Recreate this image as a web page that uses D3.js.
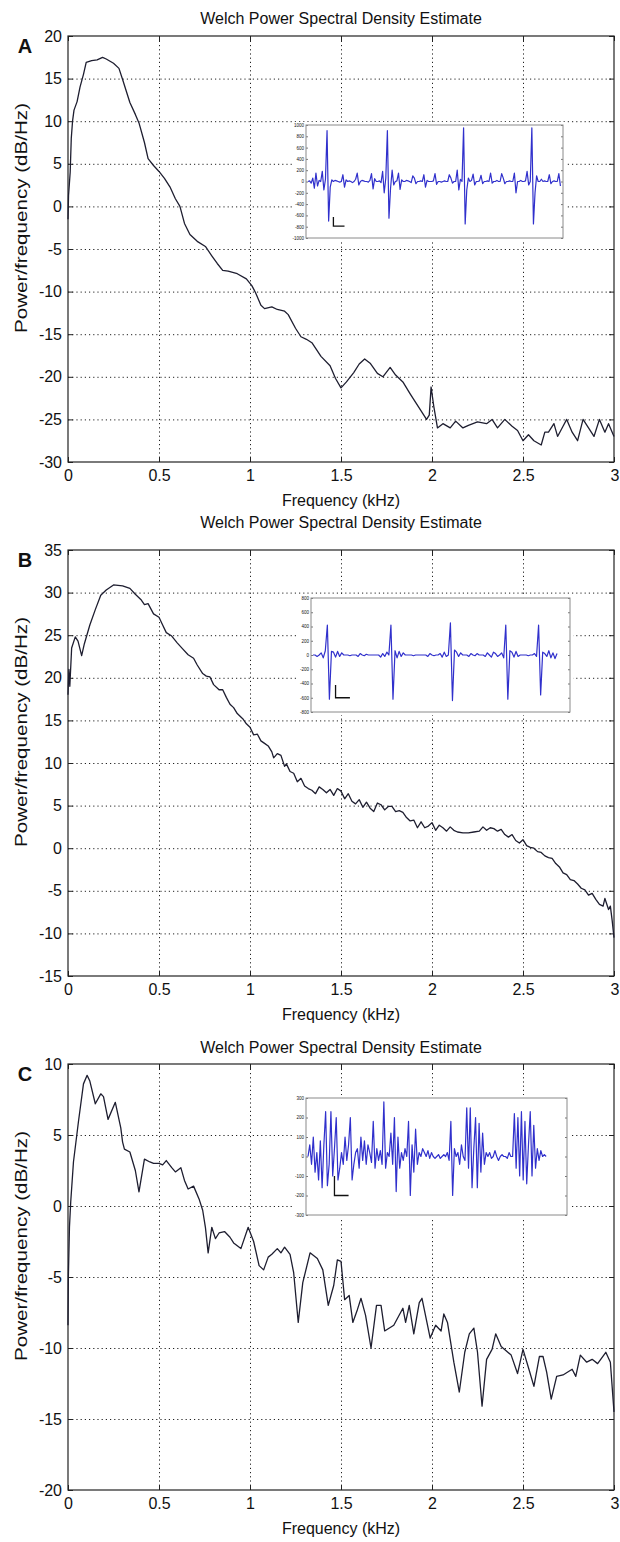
<!DOCTYPE html>
<html>
<head>
<meta charset="utf-8">
<script src="https://cdn.jsdelivr.net/npm/d3@7"></script>
<style>
  body { margin: 0; background: #fff; }
  text { font-family: "Liberation Sans", Arial, Helvetica, sans-serif; fill: #111; }
</style>
</head>
<body>
<div id="chart"></div>
<script>
// ---- data ----
const xTicks = [0, 0.5, 1, 1.5, 2, 2.5, 3];
const yTicksA = [20, 15, 10, 5, 0, -5, -10, -15, -20, -25, -30];
const yTicksB = [35, 30, 25, 20, 15, 10, 5, 0, -5, -10, -15];
const yTicksC = [10, 5, 0, -5, -10, -15, -20];

const freqA = [0, 0.003, 0.012, 0.018, 0.025, 0.033, 0.05, 0.066, 0.085, 0.1, 0.13, 0.16, 0.19, 0.21, 0.25, 0.28, 0.30, 0.34, 0.37, 0.39,
  0.42, 0.44, 0.47, 0.5, 0.53, 0.56, 0.59, 0.615, 0.64, 0.67, 0.71, 0.755, 0.79, 0.82, 0.85, 0.88, 0.93, 0.98, 1.01, 1.03,
  1.06, 1.08, 1.12, 1.15, 1.19, 1.21, 1.25, 1.28, 1.31, 1.34, 1.39, 1.44, 1.47, 1.50, 1.53, 1.57, 1.60, 1.63, 1.66, 1.70,
  1.73, 1.77, 1.80, 1.84, 1.88, 1.91, 1.94, 1.97, 1.985, 1.995, 2.01, 2.03, 2.06, 2.1, 2.13, 2.17, 2.2, 2.25, 2.3, 2.33,
  2.36, 2.4, 2.44, 2.47, 2.5, 2.53, 2.56, 2.6, 2.62, 2.64, 2.67, 2.69, 2.72, 2.74, 2.77, 2.8, 2.83, 2.86, 2.89, 2.92,
  2.95, 2.97, 3.0];
const psdA = [-1.5, 1.3, 4, 8, 10, 11.3, 12.3, 14, 15.5, 16.9, 17.1, 17.2, 17.5, 17.3, 16.8, 16.2, 14.9, 12.2, 10.8, 9.8,
  7.5, 5.6, 4.8, 4.1, 3.3, 2.3, 0.9, 0, -2, -3.3, -4.1, -4.7, -5.8, -6.7, -7.5, -7.6, -7.9, -8.5, -9.3, -10.1,
  -11.6, -12, -11.8, -12.1, -12.3, -12.7, -14.3, -15.3, -15.6, -16, -17.6, -18.7, -20.2, -21.3, -20.6, -19.5, -18.5, -17.9, -18.4, -19.6,
  -20, -18.9, -19.8, -20.6, -22, -23, -24, -25, -24.5, -21.2, -23.5, -26, -25.5, -26, -25.2, -26, -25.7, -25.3, -25.5, -25,
  -26, -25, -25.8, -26.3, -27.5, -26.8, -27.5, -28, -26.5, -26.5, -25.5, -27, -25.8, -25, -26.5, -27.5, -25, -26, -27, -25,
  -26.5, -25.5, -27];

const freqB = [0, 0.005, 0.01, 0.02, 0.04, 0.055, 0.075, 0.09, 0.12, 0.15, 0.18, 0.21, 0.25, 0.3, 0.34, 0.37, 0.4, 0.42, 0.44, 0.47,
  0.5, 0.52, 0.54, 0.57, 0.6, 0.63, 0.66, 0.69, 0.71, 0.74, 0.76, 0.78, 0.8, 0.83, 0.85, 0.87, 0.89, 0.91, 0.93, 0.96,
  0.98, 1.0, 1.02, 1.04, 1.06, 1.08, 1.1, 1.12, 1.13, 1.15, 1.17, 1.19, 1.2, 1.22, 1.24, 1.26, 1.28, 1.3, 1.32, 1.34,
  1.36, 1.38, 1.40, 1.42, 1.44, 1.46, 1.48, 1.50, 1.52, 1.54, 1.56, 1.58, 1.60, 1.62, 1.64, 1.66, 1.68, 1.70, 1.72, 1.74,
  1.76, 1.78, 1.80, 1.82, 1.84, 1.86, 1.88, 1.90, 1.92, 1.94, 1.96, 1.98, 2.0, 2.02, 2.04, 2.06, 2.08, 2.10, 2.12, 2.14,
  2.17, 2.2, 2.23, 2.26, 2.28, 2.30, 2.32, 2.34, 2.36, 2.38, 2.40, 2.42, 2.44, 2.46, 2.48, 2.50, 2.52, 2.54, 2.56, 2.58,
  2.60, 2.62, 2.64, 2.66, 2.68, 2.70, 2.72, 2.74, 2.76, 2.78, 2.80, 2.82, 2.84, 2.86, 2.88, 2.90, 2.92, 2.94, 2.95, 2.97,
  2.98, 2.99, 3.0];
const psdB = [18, 21, 19, 23.5, 24.8, 24.3, 22.6, 24, 26.2, 28, 29.7, 30.3, 30.9, 30.8, 30.5, 29.8, 29.2, 28.6, 28.7, 27.5,
  27.1, 26.2, 25.3, 24.9, 24.1, 23.4, 22.7, 22.3, 21.5, 20.5, 20.2, 20.1, 19.2, 18.6, 18.6, 17.7, 16.9, 16.5, 15.8, 15.2,
  14.6, 14.2, 13.3, 13.4, 12.6, 12.3, 12.0, 11.3, 10.6, 11.1, 10.9, 9.6, 9.9, 9.0, 8.8, 7.8, 8.2, 7.3, 7.0, 6.8,
  6.4, 7.2, 6.9, 6.5, 6.9, 6.2, 7.0, 6.7, 5.8, 6.4, 5.5, 5.2, 5.7, 4.8, 5.4, 4.7, 4.3, 5.3, 5.1, 4.5,
  4.9, 4.9, 4.3, 4.4, 4.2, 3.6, 3.2, 3.3, 2.4, 3.1, 2.4, 2.6, 3.0, 2.1, 2.7, 2.4, 2.0, 2.5, 2.1, 1.9,
  1.8, 1.8, 1.9, 2.0, 2.5, 2.1, 2.4, 2.3, 2.0, 2.2, 1.6, 1.3, 1.6, 0.9, 0.6, 1.0, 0.3, 0.1, 0.0, -0.4,
  -0.5, -0.9, -1.1, -1.2, -1.8, -2.2, -2.9, -3.1, -3.7, -3.8, -4.2, -4.7, -4.9, -5.5, -5.3, -6.0, -6.6, -6.8, -5.9, -7.2,
  -6.8, -8.5, -10.5];

const freqC = [0, 0.002, 0.008, 0.015, 0.03, 0.057, 0.085, 0.105, 0.12, 0.15, 0.18, 0.195, 0.22, 0.26, 0.29, 0.30, 0.31, 0.34, 0.37, 0.39,
  0.42, 0.45, 0.47, 0.5, 0.52, 0.54, 0.57, 0.59, 0.62, 0.64, 0.66, 0.69, 0.72, 0.74, 0.755, 0.77, 0.79, 0.81, 0.83, 0.86,
  0.89, 0.91, 0.95, 0.99, 1.02, 1.05, 1.075, 1.10, 1.12, 1.15, 1.17, 1.19, 1.22, 1.24, 1.265, 1.29, 1.33, 1.37, 1.40, 1.43,
  1.46, 1.48, 1.50, 1.52, 1.545, 1.565, 1.59, 1.61, 1.635, 1.665, 1.695, 1.72, 1.74, 1.79, 1.84, 1.855, 1.875, 1.90, 1.93, 1.945,
  1.99, 2.02, 2.05, 2.065, 2.085, 2.12, 2.15, 2.18, 2.205, 2.23, 2.25, 2.275, 2.30, 2.33, 2.35, 2.38, 2.435, 2.47, 2.50, 2.535,
  2.56, 2.59, 2.61, 2.63, 2.655, 2.685, 2.72, 2.77, 2.79, 2.815, 2.85, 2.88, 2.91, 2.955, 2.98, 3.0];
const psdC = [-8.4, -5, -1.5, 0.3, 3.1, 5.9, 8.6, 9.2, 8.8, 7.2, 7.9, 7.7, 6.1, 7.3, 5.5, 4.5, 4.0, 3.8, 2.5, 1.0,
  3.3, 3.1, 3.0, 3.0, 2.9, 3.2, 2.7, 2.4, 2.7, 1.8, 1.2, 1.4, 0.5, -0.3, -1.5, -3.3, -1.5, -2.3, -1.9, -1.8,
  -2.2, -2.6, -3.0, -1.5, -2.5, -4.2, -4.5, -3.6, -3.4, -3.0, -3.3, -2.9, -3.4, -4.7, -8.2, -5.4, -3.3, -3.7, -4.5, -7.0,
  -5.6, -3.8, -3.9, -6.6, -6.3, -8.2, -7.3, -6.5, -7.7, -10, -7.0, -7.0, -8.8, -8.4, -7.2, -8.2, -7.0, -9.0, -6.8, -6.5,
  -9.3, -8.4, -8.8, -7.6, -8.2, -11, -13.1, -10.3, -9.0, -8.6, -10.3, -14.1, -10.8, -10.1, -9.0, -9.9, -10.5, -11.8, -10.1, -11.6,
  -12.7, -10.6, -10.6, -11.7, -13.6, -12.0, -11.9, -11.5, -12.0, -10.5, -11.0, -10.8, -11.1, -10.3, -11.0, -14.5];

// inset recordings (amplitude per sample)
const insetSigA = [0, 10, -30, 60, -120, 150, -80, 20, 0, 180, -150, 40,
  900, -700, -100, 30,
  0, 20, 10, 0, -10, 0, 120, -100, 30, 0, 10, 0, -20, 0, 40, 150, -60, 0, 20, 10, 0, 0, -10, 20, 140, -130, 50, 0, 0, 10, -20, 180, -200, 60,
  900, -650, -120, 200, -60,
  0, 10, 150, -140, 30, 0, 0, 20, 10, 0, -20, 100, 60, -40, 0, 0, 10, 0, 120, -100, 20, 0, 0, 0, 10, 140, -50, 0, 0, -10, 0, 10, 0, 0, 120, 60, -30, 0, 0, 200, -150, 40, 0,
  950, -750, -150, 60,
  0, 20, 130, -60, 0, 0, 10, 110, -40, 0, 0, 10, 0, 150, -30, 0, 0, 20, 0, 0, 140, 60, -40, 0, 0, 10, 0, 0, 150, -200, 0, 0, 20, 0, 0, 10, 180, -60, 0,
  950, -750, -200, 100,
  0, 0, 40, 0, 10, 0, 0, 120, -40, 0, 10, 0, 0, 140, -80];
const insetSigB = [0, 0, -20, 0, 30, -40, 60,
  420, -620, 50, 40, -30, 50, -20, 30, 0,
  0, 0, -10, 0, 0, 0, -20, 20, 0, -10, 10, 0, 0, 0, 0, 0, 0, -30, 20, -20, 40, 0,
  420, -620, 60, -40, 50, -20, 30, 0,
  0, 0, 0, -10, 0, 0, 0, 0, 0, 0, -20, 20, 0, -10, 0, 0, 20, -30, 40, -20, 0,
  450, -640, 70, 40, -20, 30, 0,
  0, 0, -20, 20, 0, -10, 20, 0, 0, 0, -20, 30, 0, -30, 40, 20, -20, 0, 30, -40,
  420, -620, 60, 40, -30, 50, -20, 0,
  0, 0, 0, -10, 0, 0, 20, -20,
  420, -560, 40, 20, -20, 60, -40, 30, -50, 20];
const insetSigC = [0, 60, -40, 100, -80, 20, -120, 80, -160, 60,
  230, -150, -40, 230, -100, 40, 200, -120, -60, 20,
  -40, 100, -20, 60, 200, -120, -40, 20, 40, -60,
  100, -20, 80, -40, 60, 20, -30, 180, -60, 40,
  -20, 30, -40, 280, -60, 20, 0, 120, -40, 200,
  -180, 100, -60, 20, -20, 40, 0, 180, -200, 60,
  -80, 140, -40, 20, 0, 40, 20, 0, 30, -10,
  20, 0, -10, 0, 10, -10, 0, 10, 0, 20,
  -20, 180, -200, 40, 0, 20, -40, 60, 0, -20,
  250, -60, 250, -160, 40, 200, -160, 170, -80, 120,
  -40, 20, 0, 20, -10, 0, 30, 0, -20, 0,
  10, 0, 0, -10, 20, 0, 0, 220, -60, 200,
  -100, 230, -120, 180, -140, 60, 230, -100, 160, -60,
  40, -20, 30, 0, 10, 0];
const insetTicksA = [1000, 800, 600, 400, 200, 0, -200, -400, -600, -800, -1000];
const insetTicksB = [800, 600, 400, 200, 0, -200, -400, -600, -800];
const insetTicksC = [300, 200, 100, 0, -100, -200, -300];
// scale bars in sample / amplitude units
const scaleBarA = { t0: 16, t1: 23, v0: -630, v1: -790 };
const scaleBarB = { t0: 11, t1: 18, v0: -420, v1: -600 };
const scaleBarC = { t0: 15, t1: 23, v0: -100, v1: -200 };

const letters = ["A", "B", "C"];
const titleText = "Welch Power Spectral Density Estimate";

// plain hyphen minus, no thousands separator (MATLAB style labels)
const loc = d3.formatLocale({ decimal: ".", thousands: "", grouping: [3], currency: ["", ""], minus: "-" });
const fmt = loc.format("");

// ---- layout ----
const W = 620, H = 1542;
const plotL = 68, plotR = 614;

const panels = [
  { off: 0, titleY: 24, freq: freqA, psd: psdA, yTicks: yTicksA,
    inset: { x0: 306, x1: 563, y0: 125, y1: 238, sig: insetSigA, ticks: insetTicksA, bar: scaleBarA, end: 0.99 } },
  { off: 514, titleY: 528, freq: freqB, psd: psdB, yTicks: yTicksB,
    inset: { x0: 311, x1: 570, y0: 598, y1: 712, sig: insetSigB, ticks: insetTicksB, bar: scaleBarB, end: 0.95 } },
  { off: 1028, titleY: 1053, freq: freqC, psd: psdC, yTicks: yTicksC,
    inset: { x0: 306, x1: 567, y0: 1098, y1: 1215, sig: insetSigC, ticks: insetTicksC, bar: scaleBarC, end: 0.92 } }
];

const svg = d3.select("#chart").append("svg")
  .attr("width", W).attr("height", H);

panels.forEach((p, i) => {
  const top = p.off + 36, bottom = p.off + 462;
  const g = svg.append("g");

  const x = d3.scaleLinear().domain([0, 3]).range([plotL, plotR]);
  const y = d3.scaleLinear().domain(d3.extent(p.yTicks)).range([bottom, top]);

  // grid
  g.append("g").attr("class", "grid")
    .attr("transform", `translate(0,${bottom})`)
    .call(d3.axisBottom(x).tickValues(xTicks.slice(1, -1)).tickSize(-(bottom - top)).tickFormat(""));
  g.append("g").attr("class", "grid")
    .attr("transform", `translate(${plotL},0)`)
    .call(d3.axisLeft(y).tickValues(p.yTicks.slice(1, -1)).tickSize(-(plotR - plotL)).tickFormat(""));
  g.selectAll(".grid .domain").remove();
  g.selectAll(".grid line").attr("stroke", "#222").attr("stroke-width", 1).attr("stroke-dasharray", "1.2,3");

  // axes with inward ticks
  const ax = g.append("g").attr("transform", `translate(0,${bottom})`)
    .call(d3.axisBottom(x).tickValues(xTicks).tickSize(-5).tickPadding(8).tickFormat(fmt));
  const ay = g.append("g").attr("transform", `translate(${plotL},0)`)
    .call(d3.axisLeft(y).tickValues(p.yTicks).tickSize(-5).tickPadding(6).tickFormat(fmt));
  const at = g.append("g").attr("transform", `translate(0,${top})`)
    .call(d3.axisTop(x).tickValues(xTicks).tickSize(-5).tickFormat(""));
  const ar = g.append("g").attr("transform", `translate(${plotR},0)`)
    .call(d3.axisRight(y).tickValues(p.yTicks).tickSize(-5).tickFormat(""));
  [ax, ay, at, ar].forEach(a => {
    a.select(".domain").remove();
    a.selectAll("line").attr("stroke", "#222");
    a.selectAll("text").attr("font-size", 16).attr("fill", "#111")
      .attr("font-family", '"Liberation Sans", Arial, sans-serif');
  });
  // keep the last x label inside the page
  ax.selectAll(".tick text").filter(d => d === 3).attr("text-anchor", "end").attr("dx", 5);

  // frame
  g.append("rect").attr("x", plotL).attr("y", top)
    .attr("width", plotR - plotL).attr("height", bottom - top)
    .attr("fill", "none").attr("stroke", "#222").attr("stroke-width", 1.2);

  // PSD curve
  const line = d3.line().x(d => x(d[0])).y(d => y(d[1]));
  g.append("path")
    .datum(d3.zip(p.freq, p.psd))
    .attr("d", line)
    .attr("fill", "none").attr("stroke", "#1e1e30").attr("stroke-width", 1.3)
    .attr("stroke-linejoin", "round");

  // inset recording
  const ins = p.inset;
  g.append("rect").attr("x", ins.x0 - 13).attr("y", ins.y0 - 3)
    .attr("width", ins.x1 - ins.x0 + 16).attr("height", ins.y1 - ins.y0 + 6)
    .attr("fill", "#fff");
  const ix = d3.scaleLinear().domain([0, ins.sig.length - 1])
    .range([ins.x0 + 2, ins.x0 + (ins.x1 - ins.x0) * ins.end]);
  const iy = d3.scaleLinear().domain(d3.extent(ins.ticks)).range([ins.y1, ins.y0]);
  const il = g.append("g").attr("transform", `translate(${ins.x0},0)`)
    .call(d3.axisLeft(iy).tickValues(ins.ticks).tickSize(-2).tickPadding(2).tickFormat(fmt));
  const ir = g.append("g").attr("transform", `translate(${ins.x1},0)`)
    .call(d3.axisRight(iy).tickValues(ins.ticks).tickSize(-2).tickFormat(""));
  [il, ir].forEach(a => {
    a.select(".domain").remove();
    a.selectAll("line").attr("stroke", "#777");
    a.selectAll("text").attr("font-size", 4.5).attr("fill", "#666");
  });
  g.append("rect").attr("x", ins.x0).attr("y", ins.y0)
    .attr("width", ins.x1 - ins.x0).attr("height", ins.y1 - ins.y0)
    .attr("fill", "none").attr("stroke", "#8a8a8a").attr("stroke-width", 1);
  g.append("path")
    .datum(ins.sig)
    .attr("d", d3.line().x((d, j) => ix(j)).y(d => iy(d)))
    .attr("fill", "none").attr("stroke", "#3030cc").attr("stroke-width", 1.2)
    .attr("stroke-linejoin", "round");
  const b = ins.bar;
  g.append("path")
    .attr("d", `M${ix(b.t0)},${iy(b.v0)}V${iy(b.v1)}H${ix(b.t1)}`)
    .attr("fill", "none").attr("stroke", "#111").attr("stroke-width", 1.3);

  // texts
  g.append("text").attr("x", (plotL + plotR) / 2).attr("y", p.titleY)
    .attr("text-anchor", "middle").attr("font-size", 16).text(titleText);
  g.append("text").attr("x", (plotL + plotR) / 2).attr("y", bottom + 44)
    .attr("text-anchor", "middle").attr("font-size", 16).text("Frequency (kHz)");
  g.append("text")
    .attr("transform", `translate(27,${p.off + 218}) rotate(-90)`)
    .attr("text-anchor", "middle").attr("font-size", 16)
    .attr("textLength", 230).attr("lengthAdjust", "spacingAndGlyphs")
    .text("Power/frequency (dB/Hz)");
  g.append("text").attr("x", 25).attr("y", p.off + 53)
    .attr("text-anchor", "middle").attr("font-size", 20).attr("font-weight", "bold")
    .text(letters[i]);
});
</script>
</body>
</html>
